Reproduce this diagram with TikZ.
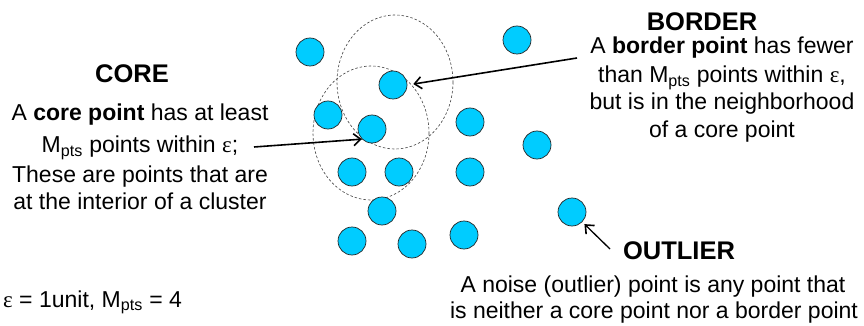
\documentclass[tikz,border=0pt]{standalone}
\usepackage{fontspec}
\setmainfont{Liberation Sans}
\newfontfamily\epsfont{Liberation Serif}
\usetikzlibrary{arrows.meta,calc}
\definecolor{ptcyan}{RGB}{0,204,255}
\newcommand{\eps}{{\epsfont ε}}
\newcommand{\Mpts}{M\textsubscript{pts}}
\begin{document}
\begin{tikzpicture}[x=1pt,y=-1pt,
  pt/.style={circle,minimum size=28pt,inner sep=0pt,fill=ptcyan,draw=black!85,line width=0.7pt},
  ttl/.style={font=\fontsize{25.5}{28}\selectfont\bfseries,inner sep=0pt},
  txt/.style={font=\fontsize{23}{28}\selectfont,inner sep=0pt,anchor=base},
  eps ring/.style={draw=black!75,dashed,dash pattern=on 2.5pt off 2pt,line width=0.6pt},
  pointer/.style={line width=1.6pt,-{Straight Barb[length=7pt,width=12pt,line width=1.6pt]}}]
\useasboundingbox (0,0) rectangle (864,326);
% epsilon neighbourhoods
\draw[eps ring] (395,82) ellipse [x radius=58, y radius=67];
\draw[eps ring] (371,133) ellipse [x radius=58, y radius=67];
% points
\node[pt] (c1) at (310,52) {};
\node[pt] (c2) at (517,40) {};
\node[pt] (c3) at (393,85) {};
\node[pt] (c4) at (328,115) {};
\node[pt] (c5) at (372,129) {};
\node[pt] (c6) at (470,122) {};
\node[pt] (c7) at (537,145) {};
\node[pt] (c8) at (352,172) {};
\node[pt] (c9) at (399,172) {};
\node[pt] (c10) at (470,172) {};
\node[pt] (c11) at (382,211) {};
\node[pt] (c12) at (352,241) {};
\node[pt] (c13) at (412,244) {};
\node[pt] (c14) at (464,235) {};
\node[pt] (c15) at (572,212) {};
% CORE text
\node[ttl] (coreT) at (132,74) {CORE};
\node[txt] (core1) at (140,121) {A \textbf{core point} has at least};
\node[txt] (core2) at (140,153) {\Mpts{} points within \eps;};
\node[txt] (core3) at (140,182) {These are points that are};
\node[txt] (core4) at (140,209) {at the interior of a cluster};
% BORDER text
\node[ttl] (borderT) at (702,22) {BORDER};
\node[txt] (border1) at (722,54) {A \textbf{border point} has fewer};
\node[txt] (border2) at (722,83) {than \Mpts{} points within \eps,};
\node[txt] (border3) at (722,110) {but is in the neighborhood};
\node[txt] (border4) at (722,138) {of a core point};
% OUTLIER text
\node[ttl] (outT) at (679,251) {OUTLIER};
\node[txt] (out1) at (653,292) {A noise (outlier) point is any point that};
\node[txt] (out2) at (654,318) {is neither a core point nor a border point};
% parameters
\node[txt,anchor=base west] (params) at (3,307) {\eps{} = 1unit, \Mpts{} = 4};
% pointers
\coordinate (coreS) at (254,147);
\coordinate (borderS) at (577,58);
\coordinate (outS) at (610,249);
\draw[pointer] (coreS) -- (c5.225);
\draw[pointer,shorten >=6pt] (borderS) -- (c3.east);
\draw[pointer,line width=1.3pt,shorten >=3pt] (outS) -- (c15);
\end{tikzpicture}
\end{document}
